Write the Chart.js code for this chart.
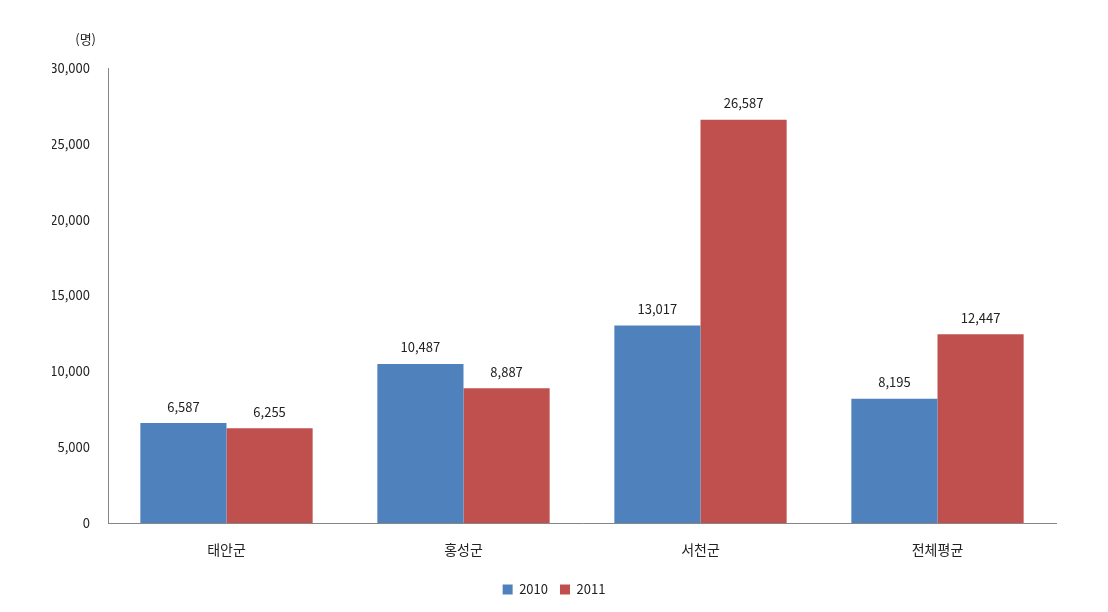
<!DOCTYPE html>
<html>
<head>
<meta charset="utf-8">
<script src="https://cdn.jsdelivr.net/npm/chart.js@4/dist/chart.umd.min.js"></script>
<style>
  html, body { margin: 0; padding: 0; background: #fff; }
  #wrap { width: 1108px; height: 612px; }
</style>
</head>
<body>
<div id="wrap"><canvas id="c"></canvas></div>
<script>
const categories = ['태안군', '홍성군', '서천군', '전체평균'];
const values2010 = [6587, 10487, 13017, 8195];
const values2011 = [6255, 8887, 26587, 12447];
const yTicks = [0, 5000, 10000, 15000, 20000, 25000, 30000];

const FONT = '"Noto Sans CJK KR", "Noto Sans", sans-serif';

// draws value labels above each bar plus the unit label
const valueLabels = {
    id: 'valueLabels',
    afterDatasetsDraw(chart) {
        const ctx = chart.ctx;
        ctx.save();
        ctx.font = '13px ' + FONT;
        ctx.fillStyle = '#222';
        ctx.textAlign = 'center';
        ctx.textBaseline = 'bottom';
        chart.data.datasets.forEach((ds, i) => {
            chart.getDatasetMeta(i).data.forEach((bar, j) => {
                ctx.fillText(ds.data[j].toLocaleString('en-US'), bar.x, bar.y - 10);
            });
        });
        ctx.textAlign = 'right';
        ctx.fillText('(명)', 96, 46);
        ctx.restore();
    }
};

new Chart(document.getElementById('c'), {
    type: 'bar',
    data: {
        labels: categories,
        datasets: [
            { label: '2010', data: values2010, backgroundColor: '#4F81BD' },
            { label: '2011', data: values2011, backgroundColor: '#C0504D' }
        ]
    },
    options: {
        responsive: true,
        maintainAspectRatio: false,
        animation: false,
        categoryPercentage: 0.727,
        barPercentage: 1.0,
        // equal side padding keeps the legend centred on the page
        layout: { padding: { top: 68, right: 52, bottom: 6, left: 52 } },
        plugins: {
            legend: {
                position: 'bottom',
                labels: {
                    color: '#222',
                    font: { family: FONT, size: 13 },
                    boxWidth: 10,
                    boxHeight: 10,
                    padding: 12
                }
            },
            tooltip: { enabled: false }
        },
        scales: {
            x: {
                grid: { display: false, drawTicks: false },
                border: { color: '#868686', width: 1 },
                ticks: { color: '#222', font: { family: FONT, size: 14 }, padding: 18 },
                afterFit(scale) { scale.height = 48; }
            },
            y: {
                min: 0,
                max: 30000,
                afterBuildTicks(scale) { scale.ticks = yTicks.map(v => ({ value: v })); },
                grid: { display: false, drawTicks: false },
                border: { color: '#868686', width: 1 },
                ticks: {
                    color: '#222',
                    font: { family: FONT, size: 13 },
                    padding: 18,
                    callback: v => v.toLocaleString('en-US')
                },
                afterFit(scale) { scale.width = 56; }
            }
        }
    },
    plugins: [valueLabels]
});
</script>
</body>
</html>
